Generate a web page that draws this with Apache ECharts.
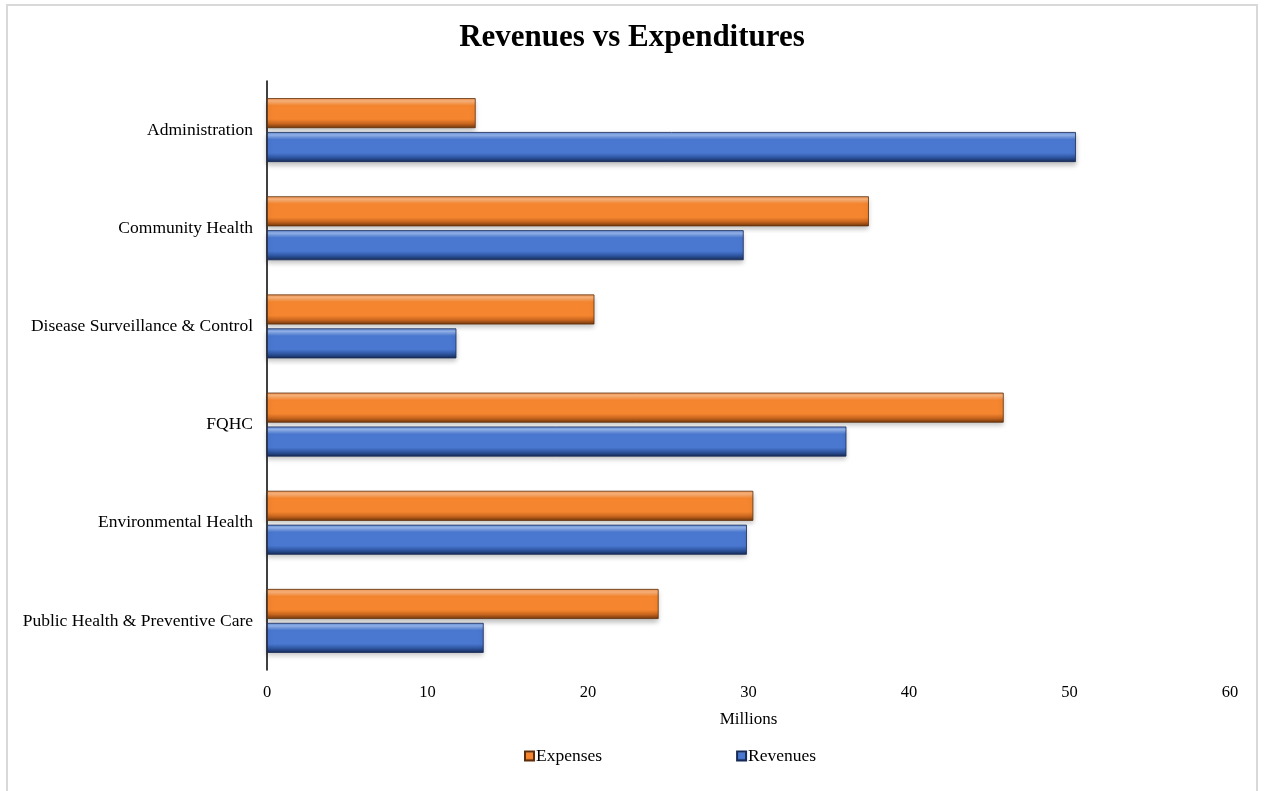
<!DOCTYPE html>
<html><head><meta charset="utf-8">
<script src="https://cdn.jsdelivr.net/npm/echarts@6/dist/echarts.min.js"></script>
<style>
html,body{margin:0;padding:0;background:#fff;}
#frame{position:absolute;left:6px;top:4px;width:1252px;height:800px;border:2px solid #d9d9d9;box-sizing:border-box;}
#main{position:absolute;left:0;top:0;width:1264px;height:791px;}
</style>
</head><body>
<div id="frame"></div>
<div id="main"></div>
<script>
var categories = ['Administration','Community Health','Disease Surveillance & Control','FQHC','Environmental Health','Public Health & Preventive Care'];
var expenses = [13.0, 37.5, 20.4, 45.9, 30.3, 24.4];
var revenues = [50.4, 29.7, 11.8, 36.1, 29.9, 13.5];
var xTicks = [0, 10, 20, 30, 40, 50, 60];

function grad(light, hi, main, dark, darkest){
  return new echarts.graphic.LinearGradient(0,0,0,1,[
    {offset:0, color:light},{offset:0.1, color:hi},{offset:0.25, color:main},
    {offset:0.7, color:main},{offset:0.85, color:dark},{offset:1, color:darkest}
  ]);
}
var chart = echarts.init(document.getElementById('main'));
var F = '"Liberation Serif", "Times New Roman", serif';
chart.setOption({
  animation:false,
  title:{text:'Revenues vs Expenditures', left:'center', top:17,
    textStyle:{fontFamily:F, fontSize:31, fontWeight:'bold', color:'#000'}},
  legend:{data:['Expenses','Revenues'], top:742, left:519, itemGap:134,
    itemWidth:9, itemHeight:9, icon:'rect',
    textStyle:{fontFamily:F, fontSize:17.5, color:'#000', padding:[0,0,0,-3]}},
  grid:{left:267, right:34, top:81, bottom:121},
  xAxis:{type:'value', min:0, max:60, interval:10,
    name:'Millions', nameLocation:'middle', nameGap:41,
    nameTextStyle:{fontFamily:F, fontSize:17, color:'#000'},
    axisLine:{show:false}, axisTick:{show:false}, splitLine:{show:false},
    axisLabel:{fontFamily:F, fontSize:16.5, color:'#000', margin:14,
      formatter:function(v){return xTicks.indexOf(v)>=0?String(v):'';}}},
  yAxis:{type:'category', data:categories, inverse:true,
    axisLine:{show:true, lineStyle:{color:'#000', width:1.5}},
    axisTick:{show:false},
    axisLabel:{fontFamily:F, fontSize:17.5, color:'#000', margin:14}},
  series:[
    {name:'Expenses', type:'bar', data:expenses, barWidth:30, barGap:'13%', barCategoryGap:'35%',
      itemStyle:{color:grad('#f59550','#fbb47c','#f5862f','#c8651e','#6e360c'),
        borderColor:'#5e2e0a', borderWidth:0.8,
        shadowColor:'rgba(0,0,0,0.25)', shadowBlur:5, shadowOffsetY:3}},
    {name:'Revenues', type:'bar', data:revenues, barWidth:30,
      itemStyle:{color:grad('#5f88d6','#94b4ec','#4a78d0','#2e55a0','#172a55'),
        borderColor:'#172a55', borderWidth:0.8,
        shadowColor:'rgba(0,0,0,0.25)', shadowBlur:5, shadowOffsetY:3}}
  ]
});
</script>
</body></html>
